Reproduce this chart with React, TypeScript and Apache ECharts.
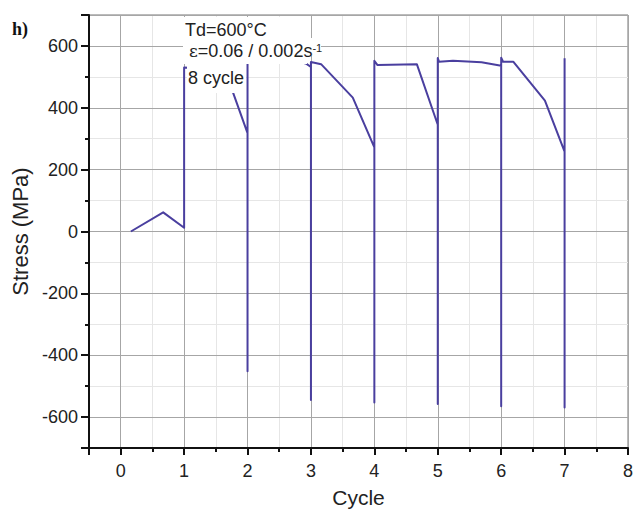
import { useEffect, useRef } from 'react';
import * as echarts from 'echarts';

const FONT = '"Liberation Sans", Arial, Helvetica, sans-serif';

// Stress trace per cycle (x = cycle position, y = stress in MPa)
const cycleX = [
  0.16, 0.67, 1.0, 1.0, 1.45, 1.7,
  2.0, 2.0, 2.0, 2.85, 2.93, 3.0,
  3.0, 3.0, 3.16, 3.66, 4.0,
  4.0, 4.0, 4.05, 4.67, 5.0,
  5.0, 5.0, 5.02, 5.24, 5.69, 6.0,
  6.0, 6.0, 6.03, 6.19, 6.69, 7.0,
  7.0, 7.0,
];
const stressMPa = [
  0, 62, 12, 530, 525, 490,
  318, -452, 545, 547, 542, 532,
  -545, 548, 541, 433, 272,
  -553, 552, 538, 541, 345,
  -558, 561, 549, 552, 547, 536,
  -565, 562, 549, 549, 423, 258,
  -569, 560,
];

// Axis ranges
const xRange = [-0.5, 8];
const yRange = [-700, 700];

const panelLabel = 'h)';
const conditionLines = ['Td=600°C', 'ε=0.06 / 0.002s', '-1', '8 cycle'];

const MAJOR_GRID = '#a6a6a6';
const MINOR_GRID = '#e6e6e6';
const AXIS_BLACK = '#111';
const LINE_COLOR = '#4a3f9f';

export default function App() {
  const ref = useRef<HTMLDivElement>(null);

  useEffect(() => {
    if (!ref.current) return;
    const chart = echarts.init(ref.current, undefined, { renderer: 'svg' });

    const points = cycleX.map((x, i) => [x, stressMPa[i]]);

    const textStyle = {
      fontFamily: FONT,
      fontSize: 18,
      fill: '#222',
      align: 'left',
      verticalAlign: 'top',
    };

    chart.setOption({
      animation: false,
      backgroundColor: '#fff',
      grid: {
        left: 89,
        right: 15,
        top: 15,
        bottom: 68,
        show: true,
        borderColor: '#777',
        borderWidth: 1,
        backgroundColor: 'transparent',
      },
      xAxis: [
        {
          type: 'value',
          min: xRange[0],
          max: xRange[1],
          splitNumber: 8,
          position: 'bottom',
          z: 2,
          axisLine: { show: true, onZero: false, lineStyle: { color: AXIS_BLACK, width: 2 } },
          axisTick: { show: true, length: 7, lineStyle: { color: AXIS_BLACK, width: 2 } },
          axisLabel: {
            margin: 14,
            fontSize: 18,
            fontFamily: FONT,
            color: '#222',
            formatter: (v: number) => (Number.isInteger(v) ? String(v) : ''),
          },
          splitLine: { show: true, lineStyle: { color: MAJOR_GRID, width: 1 } },
          name: 'Cycle',
          nameLocation: 'middle',
          nameGap: 39,
          nameTextStyle: { fontSize: 21, fontFamily: FONT, color: '#222' },
        },
        {
          type: 'value',
          min: xRange[0],
          max: xRange[1],
          interval: 0.5,
          position: 'bottom',
          z: 1,
          axisLine: { show: false, onZero: false },
          axisTick: { show: true, length: 4, lineStyle: { color: AXIS_BLACK, width: 2 } },
          axisLabel: { show: false },
          splitLine: { show: true, lineStyle: { color: MINOR_GRID, width: 1 } },
        },
      ],
      yAxis: [
        {
          type: 'value',
          min: yRange[0],
          max: yRange[1],
          splitNumber: 7,
          position: 'left',
          z: 2,
          axisLine: { show: true, onZero: false, lineStyle: { color: AXIS_BLACK, width: 2 } },
          axisTick: { show: true, length: 8, lineStyle: { color: AXIS_BLACK, width: 2 } },
          axisLabel: {
            margin: 11,
            fontSize: 18,
            fontFamily: FONT,
            color: '#222',
            formatter: (v: number) => (Math.abs(v) === 700 ? '' : String(v)),
          },
          splitLine: { show: true, lineStyle: { color: MAJOR_GRID, width: 1 } },
          name: 'Stress (MPa)',
          nameLocation: 'middle',
          nameRotate: 90,
          nameGap: 53,
          nameTextStyle: { fontSize: 22, fontFamily: FONT, color: '#222' },
        },
        {
          type: 'value',
          min: yRange[0],
          max: yRange[1],
          interval: 100,
          position: 'left',
          z: 1,
          axisLine: { show: false, onZero: false },
          axisTick: { show: true, length: 4, lineStyle: { color: AXIS_BLACK, width: 2 } },
          axisLabel: { show: false },
          splitLine: { show: true, lineStyle: { color: MINOR_GRID, width: 1 } },
        },
      ],
      series: [
        {
          type: 'line',
          xAxisIndex: 0,
          yAxisIndex: 0,
          data: points,
          showSymbol: false,
          symbol: 'none',
          z: 5,
          lineStyle: { color: LINE_COLOR, width: 2, join: 'round' },
        },
      ],
      graphic: [
        {
          type: 'text',
          x: 12,
          y: 20,
          z: 100,
          style: {
            text: panelLabel,
            font: 'bold 18px "Liberation Serif", "DejaVu Serif", serif',
            fill: '#111',
            align: 'left',
            verticalAlign: 'top',
          },
        },
        // white boxes behind the test-condition notes
        {
          type: 'rect',
          z: 99,
          shape: { x: 183, y: 17, width: 124, height: 47 },
          style: { fill: '#fff' },
        },
        {
          type: 'rect',
          z: 99,
          shape: { x: 307, y: 38, width: 14, height: 18 },
          style: { fill: '#fff' },
        },
        {
          type: 'rect',
          z: 99,
          shape: { x: 187, y: 61, width: 59, height: 32 },
          style: { fill: '#fff' },
        },
        {
          type: 'text',
          x: 185,
          y: 21,
          z: 100,
          style: { ...textStyle, text: conditionLines[0] },
        },
        {
          type: 'text',
          x: 189,
          y: 42,
          z: 100,
          style: {
            ...textStyle,
            text: `{e|${conditionLines[1].slice(0, 1)}}${conditionLines[1].slice(1)}{sup|${conditionLines[2]}}`,
            rich: {
              e: { fontFamily: '"DejaVu Serif", serif', fontSize: 17, fill: '#222' },
              sup: { fontSize: 11, fontFamily: FONT, fill: '#222', verticalAlign: 'top' },
            },
          },
        },
        {
          type: 'text',
          x: 188,
          y: 69,
          z: 100,
          style: { ...textStyle, text: conditionLines[3] },
        },
      ],
    });

    return () => chart.dispose();
  }, []);

  return (
    <div
      ref={ref}
      style={{ position: 'absolute', left: 0, top: 0, width: 643, height: 516 }}
    />
  );
}
